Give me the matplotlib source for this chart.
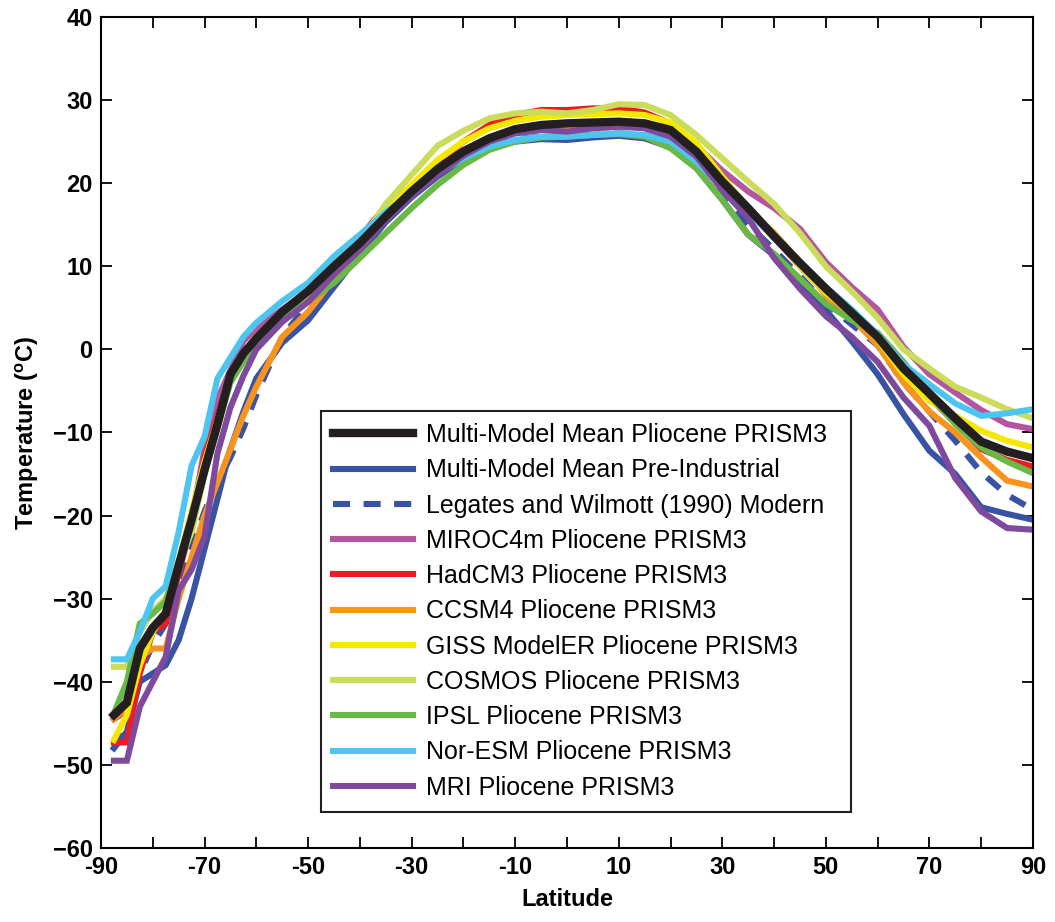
import matplotlib
matplotlib.use("Agg")
import matplotlib.pyplot as plt
import numpy as np

plt.rcParams['font.family'] = ['Liberation Sans', 'DejaVu Sans']

# latitude grid (deg)
lat = [-87.5, -85, -82.5, -80, -77.5, -75, -72.5, -70, -67.5, -65, -62.5, -60,
       -55, -50, -45, -40, -35, -30, -25, -20, -15, -10, -5, 0, 5, 10, 15, 20,
       25, 30, 35, 40, 45, 50, 55, 60, 65, 70, 75, 80, 85, 90]

# zonal mean surface air temperature (deg C)
mmm_plio = [-44, -42.5, -36, -33.5, -31.8, -26, -20.5, -14.5, -9, -3, -0.5, 1.3,
            4.5, 7.0, 10.0, 12.8, 16.0, 19.0, 21.7, 23.8, 25.4, 26.5, 27.0, 27.2, 27.3, 27.4, 27.2, 26.4,
            23.8, 20.2, 17.0, 13.6, 10.4, 7.3, 4.4, 1.5, -2.3, -5.3, -8.3, -11.1, -12.3, -13.1]
mmm_pi = [-48, -46, -40, -39, -38, -35, -30, -24, -18, -12, -7.5, -3.5,
          0.8, 3.5, 7.5, 11.5, 15.3, 18.3, 20.8, 22.8, 24.2, 25.0, 25.3, 25.2, 25.5, 25.7, 25.4, 24.3,
          21.8, 18.0, 13.8, 11.3, 8.0, 4.7, 1.0, -3.0, -7.8, -12.2, -15.0, -19.0, -19.8, -20.5]
legates = [-48, -45, -39, -35.5, -33, -29, -24, -19.5, -16, -13, -9.5, -5.5,
           1.5, 5.5, 8.5, 12, 15.5, 18.5, 21, 23, 24.5, 25.3, 25.6, 25.6, 25.8, 26, 25.8, 24.6,
           22, 18.5, 15, 12, 8.8, 5.5, 3.0, 0.5, -4.0, -7.5, -11.0, -14.8, -17.5, -19.3]
miroc = [-44.5, -43.5, -38, -34, -32, -26, -20.5, -12, -6, -2.5, 1, 2.5,
         4.8, 7, 10, 13, 16.5, 19.3, 22, 24, 25.5, 26.3, 26.8, 26.8, 27, 27.2, 27.0, 26.5,
         24.5, 21.5, 19.0, 17.0, 14.5, 10.5, 7.5, 4.8, 0.3, -3.0, -5.2, -7.3, -9.0, -9.6]
hadcm3 = [-47.3, -47.3, -39, -34, -33, -27, -21, -13, -8, -3, -0.5, 1.5,
          4.5, 7.0, 10.0, 13.5, 17.2, 19.6, 22.5, 25.0, 27.0, 28.2, 28.8, 28.8, 29.0, 29.0, 28.5, 27.2,
          24.5, 20.5, 16.8, 13.5, 10.0, 6.8, 4.5, 1.5, -3.0, -5.8, -8.8, -12.0, -13.3, -14.1]
ccsm4 = [-44.5, -43, -37, -36, -36, -30, -25, -20, -16, -12, -8, -4.5,
         1.5, 4.5, 8.5, 12.5, 16, 19.2, 21.6, 23.6, 25.2, 26.0, 26.4, 26.5, 26.6, 26.8, 26.8, 25.8,
         23.5, 20, 16.8, 14.0, 10.5, 6.5, 3.8, 0.5, -4.0, -7.5, -10.0, -13.0, -15.8, -16.5]
giss = [-47, -44, -38, -34, -31.5, -25.5, -19.5, -13.5, -8.5, -3, -0.5, 1.5,
        4.5, 7.2, 10.2, 13.5, 16.8, 19.8, 22.8, 25.0, 26.6, 27.5, 28.0, 28.2, 28.3, 28.4, 28.2, 27.3,
        24.8, 20.8, 17.0, 13.8, 10.0, 6.8, 4.5, 1.2, -3.0, -6.2, -8.0, -9.8, -11.0, -11.8]
cosmos = [-38.2, -38.2, -34, -31.5, -30, -25.5, -22, -15, -8.5, -3.5, -1, 1,
          4, 6.5, 9.5, 12.8, 17.5, 21.0, 24.5, 26.3, 27.8, 28.4, 28.6, 28.4, 28.8, 29.5, 29.4, 28.2,
          25.8, 23.0, 20.2, 17.5, 14.0, 10.0, 7.0, 3.8, 0, -2.3, -4.5, -5.8, -7.2, -8.3]
ipsl = [-43.8, -40, -33, -31.8, -30.3, -26, -21, -15, -9.5, -4, -1.5, 0.5,
        3.8, 5.8, 8.0, 11.0, 14.0, 17.0, 19.8, 22.2, 24.0, 25.0, 25.5, 25.6, 25.8, 25.9, 25.6, 24.2,
        21.8, 18.0, 13.8, 11.5, 8.5, 5.5, 3.5, 2.0, -1.5, -5.5, -9.0, -11.8, -13.5, -14.9]
noresm = [-37.3, -37.3, -34, -30, -28.5, -22, -14, -10.5, -3.5, -1, 1.5, 3.2,
          5.8, 8.0, 11.2, 13.8, 16.5, 18.8, 21.2, 23.0, 24.4, 25.2, 25.6, 25.6, 25.8, 26.0, 25.8, 25.0,
          22.6, 19.5, 16.5, 13.5, 10.5, 7.5, 4.8, 1.8, -1.8, -4.2, -6.5, -8.0, -7.7, -7.2]
mri = [-49.5, -49.5, -43, -40, -37, -29, -26.5, -22.5, -12.5, -7, -3.2, 0,
       3.3, 5.7, 9.0, 12.0, 15.5, 18.5, 21, 23.3, 25.0, 26.0, 26.4, 26.2, 26.6, 26.8, 26.6, 25.6,
       23.2, 19.2, 15.8, 11.0, 7.3, 4.0, 1.5, -1.5, -5.8, -9.2, -15.5, -19.5, -21.5, -21.7]

labels = ['Multi-Model Mean Pliocene PRISM3',
          'Multi-Model Mean Pre-Industrial',
          'Legates and Wilmott (1990) Modern',
          'MIROC4m Pliocene PRISM3',
          'HadCM3 Pliocene PRISM3',
          'CCSM4 Pliocene PRISM3',
          'GISS ModelER Pliocene PRISM3',
          'COSMOS Pliocene PRISM3',
          'IPSL Pliocene PRISM3',
          'Nor-ESM Pliocene PRISM3',
          'MRI Pliocene PRISM3']
series = [mmm_plio, mmm_pi, legates, miroc, hadcm3, ccsm4, giss, cosmos, ipsl, noresm, mri]
colors = ['#231f20', '#3953a4', '#3953a4', '#b455a0', '#ed1c24', '#f7941d',
          '#f5e800', '#cbdb5a', '#6ab946', '#4cc6f0', '#7f4a9d']

fig = plt.figure(figsize=(10.55, 9.22), dpi=100)
ax = fig.add_axes([0.0957, 0.0803, 0.8834, 0.9013])

handles = [None] * len(series)
# draw the black mean last so it sits on top
for i in list(range(1, len(series))) + [0]:
    lw = 6.0 if i == 0 else 4.4
    ls = (0, (2.8, 2.2)) if i == 2 else '-'
    h, = ax.plot(lat, series[i], color=colors[i], lw=lw, ls=ls,
                 solid_joinstyle='miter', label=labels[i])
    handles[i] = h

ax.set_xlim(-90, 90)
ax.set_ylim(-60, 40)
ax.set_xticks(np.arange(-90, 91, 10))
ax.set_xticklabels([str(v) if (v + 90) % 20 == 0 else '' for v in range(-90, 91, 10)])
ax.set_yticks(np.arange(-60, 41, 10))
ax.tick_params(direction='in', length=8, width=1.3, top=True, right=True,
               labelsize=17, pad=6)
for lab in ax.get_xticklabels() + ax.get_yticklabels():
    lab.set_fontweight('bold')
for sp in ax.spines.values():
    sp.set_linewidth(1.5)

ax.set_xlabel('Latitude', fontsize=17, fontweight='bold', labelpad=6)
ax.set_ylabel(r'Temperature ($^{\mathregular{o}}$C)', fontsize=17, fontweight='bold', labelpad=8)

leg = ax.legend(handles=handles, loc='lower left', bbox_to_anchor=(0.236, 0.043, 0.569, 0.478),
                mode='expand', fontsize=18, frameon=True, fancybox=False,
                edgecolor='#231f20', handlelength=3.2, handletextpad=0.5,
                labelspacing=0.45, borderaxespad=0, borderpad=0.5)
leg.get_frame().set_linewidth(1.5)
leg.get_frame().set_alpha(1)

fig.savefig('out.png', dpi=100)
